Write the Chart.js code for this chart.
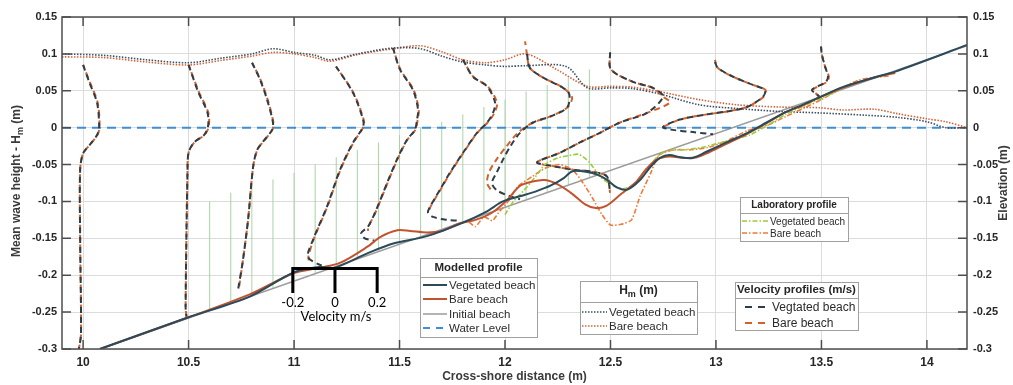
<!DOCTYPE html>
<html>
<head>
<meta charset="utf-8">
<script src="https://cdn.jsdelivr.net/npm/chart.js@4.4.0/dist/chart.umd.min.js"></script>
<style>
  body { margin: 0; background: #fff; }
  #wrap { width: 1013px; height: 385px; }
</style>
</head>
<body>
<div id="wrap"><canvas id="beachChart" width="1013" height="385"></canvas></div>
<script>
// axis ticks
var xTicks = [10, 10.5, 11, 11.5, 12, 12.5, 13, 13.5, 14];
var yTicks = [-0.3, -0.25, -0.2, -0.15, -0.1, -0.05, 0, 0.05, 0.1, 0.15];

// modelled profiles
var initialX = [10.08, 14.19];
var initialY = [-0.3, 0.111];
var waterX = [9.9, 14.19];
var waterY = [0, 0];

var vegBedX = [10.08, 10.5, 10.79, 11.0, 11.12, 11.19, 11.35, 11.47, 11.63, 11.79, 11.91, 11.99, 12.07, 12.15, 12.22, 12.28, 12.32, 12.39, 12.44, 12.48, 12.53, 12.58, 12.64, 12.69, 12.735, 12.78, 12.83, 12.89, 12.96, 13.05, 13.15, 13.24, 13.33, 13.41, 13.49, 13.6, 13.75, 13.85, 14.19];
var vegBedY = [-0.3, -0.257, -0.229, -0.196, -0.189, -0.19, -0.17, -0.157, -0.147, -0.13, -0.114, -0.1, -0.093, -0.086, -0.078, -0.068, -0.059, -0.06, -0.064, -0.07, -0.081, -0.084, -0.071, -0.053, -0.041, -0.037, -0.04, -0.041, -0.032, -0.02, -0.007, 0.007, 0.021, 0.031, 0.041, 0.055, 0.068, 0.076, 0.112];

var bareBedX = [10.08, 10.5, 10.79, 11.0, 11.12, 11.22, 11.35, 11.41, 11.49, 11.55, 11.63, 11.7, 11.78, 11.86, 11.94, 12.01, 12.07, 12.13, 12.19, 12.25, 12.32, 12.38, 12.43, 12.48, 12.55, 12.62, 12.67, 12.72, 12.78, 12.85, 12.91, 12.97, 13.05, 13.15, 13.24, 13.33, 13.41, 13.49, 13.6, 13.75, 13.85];
var bareBedY = [-0.3, -0.257, -0.226, -0.197, -0.19, -0.183, -0.161, -0.148, -0.139, -0.14, -0.142, -0.14, -0.13, -0.125, -0.115, -0.098, -0.079, -0.073, -0.071, -0.077, -0.09, -0.104, -0.109, -0.106, -0.09, -0.074, -0.056, -0.043, -0.039, -0.041, -0.04, -0.033, -0.022, -0.008, 0.006, 0.021, 0.03, 0.041, 0.054, 0.068, 0.074];

// laboratory profiles
var labVegX = [12.0, 12.04, 12.09, 12.14, 12.19, 12.25, 12.3, 12.35, 12.4, 12.45, 12.5, 12.56, 12.62, 12.67, 12.72, 12.77, 12.85, 12.93, 13.0, 13.08, 13.16, 13.25, 13.33, 13.42, 13.5, 13.58];
var labVegY = [-0.118, -0.1, -0.085, -0.068, -0.05, -0.041, -0.038, -0.036, -0.047, -0.066, -0.077, -0.083, -0.076, -0.058, -0.04, -0.031, -0.03, -0.027, -0.022, -0.016, -0.01, 0.004, 0.018, 0.03, 0.04, 0.05];
var labBareX = [11.83, 11.86, 11.9, 11.94, 11.97, 12.02, 12.06, 12.13, 12.19, 12.26, 12.32, 12.37, 12.42, 12.46, 12.5, 12.55, 12.6, 12.64, 12.69, 12.73, 12.8, 12.88, 12.96, 13.05, 13.15, 13.25, 13.33, 13.42, 13.5, 13.6, 13.68, 13.75, 13.82];
var labBareY = [-0.128, -0.134, -0.121, -0.126, -0.115, -0.098, -0.08, -0.066, -0.055, -0.05, -0.057, -0.075, -0.098, -0.118, -0.132, -0.131, -0.125, -0.093, -0.062, -0.037, -0.03, -0.03, -0.027, -0.018, -0.004, 0.004, 0.015, 0.027, 0.038, 0.054, 0.065, 0.068, 0.07];

// mean wave height
var hmVegX = [9.9, 10.1, 10.3, 10.5, 10.65, 10.8, 10.9, 11.0, 11.1, 11.17, 11.3, 11.47, 11.6, 11.7, 11.8, 11.91, 12.0, 12.1, 12.29, 12.39, 12.5, 12.6, 12.73, 12.92, 13.1, 13.3, 13.49, 13.7, 13.86, 14.0, 14.09, 14.19];
var hmVegY = [0.1, 0.098, 0.092, 0.088, 0.094, 0.1, 0.107, 0.102, 0.098, 0.092, 0.1, 0.108, 0.107, 0.097, 0.089, 0.085, 0.083, 0.084, 0.083, 0.054, 0.054, 0.053, 0.046, 0.031, 0.026, 0.022, 0.02, 0.017, 0.014, 0.008, 0, 0];
var hmBareX = [9.9, 10.1, 10.3, 10.5, 10.65, 10.8, 10.9, 11.0, 11.1, 11.17, 11.3, 11.47, 11.6, 11.7, 11.8, 11.91, 12.0, 12.1, 12.25, 12.39, 12.5, 12.6, 12.73, 12.92, 13.1, 13.3, 13.49, 13.6, 13.75, 13.86, 14.0, 14.09, 14.19];
var hmBareY = [0.096, 0.095, 0.089, 0.085, 0.091, 0.097, 0.102, 0.1, 0.095, 0.09, 0.099, 0.107, 0.111, 0.103, 0.092, 0.088, 0.092, 0.1, 0.078, 0.056, 0.056, 0.055, 0.049, 0.038, 0.031, 0.028, 0.027, 0.024, 0.025, 0.019, 0.012, 0.008, 0];

// vegetation stems
var stemX = [10.6, 10.7, 10.8, 10.9, 11.0, 11.1, 11.2, 11.3, 11.4, 11.5, 11.6, 11.7, 11.8, 11.9, 12.0, 12.1, 12.2, 12.3, 12.4];
var stemTop = [-0.1, -0.088, -0.079, -0.07, -0.061, -0.05, -0.04, -0.03, -0.02, -0.01, 0.0, 0.008, 0.018, 0.028, 0.038, 0.049, 0.058, 0.068, 0.079];
var stemBottom = [-0.247, -0.237, -0.227, -0.217, -0.207, -0.197, -0.187, -0.177, -0.167, -0.157, -0.147, -0.137, -0.127, -0.117, -0.107, -0.097, -0.087, -0.077, -0.067];

// velocity profiles (x = station + velocity)
var velVegX = [
  [10.0, 10.03, 10.066, 10.076, 10.066, 10.035, 10.0, 9.986, 9.986, 9.99, 9.98],
  [10.5, 10.545, 10.59, 10.592, 10.573, 10.526, 10.5, 10.495, 10.486, 10.49],
  [10.801, 10.839, 10.872, 10.9, 10.896, 10.853, 10.825, 10.806, 10.782, 10.758, 10.735],
  [11.199, 11.28, 11.327, 11.327, 11.28, 11.218, 11.156, 11.09, 11.066, 11.123, 11.19],
  [11.469, 11.502, 11.564, 11.588, 11.583, 11.573, 11.536, 11.488, 11.441, 11.384, 11.351, 11.318, 11.335, 11.38],
  [11.801, 11.848, 11.915, 11.953, 11.943, 11.915, 11.867, 11.801, 11.739, 11.692, 11.645, 11.635, 11.659, 11.725, 11.773],
  [12.104, 12.118, 12.18, 12.275, 12.305, 12.294, 12.213, 12.133, 12.071, 12.024, 11.991, 11.962, 11.938, 11.962, 12.024, 12.071],
  [12.498, 12.502, 12.607, 12.701, 12.749, 12.673, 12.545, 12.45, 12.355, 12.261, 12.152, 12.227, 12.322, 12.417, 12.483, 12.498],
  [12.995, 13.009, 13.081, 13.175, 13.232, 13.223, 13.147, 13.052, 12.957, 12.829, 12.749, 12.796, 12.891, 12.986],
  [13.498, 13.502, 13.517, 13.531, 13.521, 13.483, 13.455, 13.479, 13.502]
];
var velVegY = [
  [0.085, 0.061, 0.034, 0.001, -0.01, -0.022, -0.035, -0.057, -0.15, -0.28, -0.3],
  [0.085, 0.049, 0.02, 0.001, -0.01, -0.02, -0.034, -0.057, -0.243, -0.256],
  [0.088, 0.065, 0.038, 0.007, -0.003, -0.019, -0.03, -0.053, -0.125, -0.179, -0.219],
  [0.083, 0.047, 0.011, 0.001, -0.02, -0.057, -0.107, -0.152, -0.175, -0.186, -0.191],
  [0.108, 0.079, 0.051, 0.024, 0.011, -0.003, -0.016, -0.043, -0.075, -0.115, -0.134, -0.143, -0.15, -0.153],
  [0.092, 0.069, 0.056, 0.034, 0.02, 0.007, -0.007, -0.034, -0.061, -0.084, -0.107, -0.115, -0.121, -0.125, -0.126],
  [0.1, 0.081, 0.068, 0.054, 0.045, 0.027, 0.015, 0.007, -0.007, -0.026, -0.043, -0.06, -0.075, -0.085, -0.093, -0.097],
  [0.102, 0.079, 0.062, 0.054, 0.042, 0.02, 0.007, -0.007, -0.02, -0.034, -0.047, -0.052, -0.057, -0.06, -0.066, -0.088],
  [0.089, 0.081, 0.069, 0.058, 0.051, 0.042, 0.028, 0.022, 0.018, 0.011, 0.001, -0.003, -0.006, -0.009],
  [0.11, 0.099, 0.083, 0.069, 0.062, 0.056, 0.051, 0.045, 0.038]
];
var velBareX = [
  [10.0, 10.033, 10.069, 10.078, 10.068, 10.036, 10.0, 9.986, 9.986, 9.99, 9.98],
  [10.5, 10.548, 10.594, 10.595, 10.575, 10.527, 10.5, 10.495, 10.486, 10.49],
  [10.801, 10.841, 10.875, 10.902, 10.897, 10.854, 10.826, 10.806, 10.782, 10.758, 10.738],
  [11.199, 11.282, 11.33, 11.329, 11.282, 11.22, 11.158, 11.092, 11.068, 11.07],
  [11.469, 11.504, 11.567, 11.591, 11.586, 11.575, 11.538, 11.49, 11.443, 11.386, 11.353, 11.35],
  [11.801, 11.85, 11.918, 11.962, 11.95, 11.918, 11.869, 11.803, 11.741, 11.694, 11.647, 11.637],
  [12.095, 12.104, 12.118, 12.18, 12.275, 12.318, 12.294, 12.213, 12.133, 12.061, 12.005, 11.96, 11.925, 11.915, 11.935],
  [12.498, 12.502, 12.607, 12.701, 12.749, 12.782, 12.673, 12.545, 12.45, 12.355, 12.261, 12.152, 12.227, 12.322, 12.417, 12.483, 12.498],
  [12.995, 13.009, 13.081, 13.175, 13.235, 13.226, 13.147, 13.052, 12.957, 12.829, 12.749],
  [13.498, 13.502, 13.517, 13.535, 13.525, 13.485, 13.457, 13.479, 13.502]
];
var velBareY = [
  [0.085, 0.061, 0.034, 0.001, -0.01, -0.022, -0.035, -0.057, -0.15, -0.28, -0.3],
  [0.085, 0.049, 0.02, 0.001, -0.01, -0.02, -0.034, -0.057, -0.243, -0.256],
  [0.088, 0.065, 0.038, 0.007, -0.003, -0.019, -0.03, -0.053, -0.125, -0.179, -0.219],
  [0.083, 0.047, 0.011, 0.001, -0.02, -0.057, -0.107, -0.152, -0.175, -0.18],
  [0.108, 0.079, 0.051, 0.024, 0.011, -0.003, -0.016, -0.043, -0.075, -0.115, -0.134, -0.14],
  [0.092, 0.069, 0.056, 0.034, 0.02, 0.007, -0.007, -0.034, -0.061, -0.084, -0.107, -0.115],
  [0.117, 0.1, 0.081, 0.068, 0.054, 0.041, 0.027, 0.015, 0.007, -0.007, -0.026, -0.043, -0.06, -0.075, -0.085],
  [0.102, 0.079, 0.062, 0.054, 0.042, 0.034, 0.02, 0.007, -0.007, -0.02, -0.034, -0.047, -0.052, -0.057, -0.06, -0.066, -0.088],
  [0.092, 0.081, 0.069, 0.058, 0.051, 0.042, 0.028, 0.022, 0.018, 0.011, 0.001],
  [0.11, 0.099, 0.083, 0.069, 0.062, 0.056, 0.051, 0.045, 0.038]
];

// velocity scale bar
var scaleBarStation = 11.194;
var scaleBarTicks = [-0.2, 0, 0.2];
var scaleBarTop = -0.191;
var scaleBarBottom = -0.224;


function pts(xs, ys) {
  let out = [];
  for (let i = 0; i < xs.length; i++) {
    out.push({ x: xs[i], y: ys[i] });
  }
  return out;
}

function lineSet(data, color, width, dash, order, tension, dashOffset) {
  return {
    data: data,
    showLine: true,
    borderColor: color,
    borderWidth: width,
    borderDash: dash || [],
    borderDashOffset: dashOffset || 0,
    pointRadius: 0,
    pointHoverRadius: 0,
    fill: false,
    tension: tension || 0,
    order: order
  };
}

function stemData() {
  let out = [];
  for (let i = 0; i < stemX.length; i++) {
    out.push({ x: stemX[i], y: stemBottom[i] });
    out.push({ x: stemX[i], y: stemTop[i] });
    out.push({ x: stemX[i], y: null });
  }
  return out;
}

function scaleBarData() {
  let first = scaleBarStation + scaleBarTicks[0];
  let last = scaleBarStation + scaleBarTicks[scaleBarTicks.length - 1];
  let out = [
    { x: first, y: scaleBarBottom }, { x: first, y: scaleBarTop },
    { x: last, y: scaleBarTop }, { x: last, y: scaleBarBottom }
  ];
  for (let i = 1; i < scaleBarTicks.length - 1; i++) {
    let px = scaleBarStation + scaleBarTicks[i];
    out.push({ x: px, y: null });
    out.push({ x: px, y: scaleBarTop });
    out.push({ x: px, y: scaleBarBottom });
  }
  return out;
}

var C = {
  vegBed: '#2b4a5a',
  bareBed: '#c2532f',
  initial: '#9b9b9b',
  water: '#3b8fd2',
  hmVeg: '#3d4f5e',
  hmBare: '#d3633a',
  velVeg: '#2e3d48',
  velBare: '#d2622c',
  labVeg: '#9dcc3a',
  labBare: '#ef7a38',
  stem: '#a9d3a5'
};

var DASH_VEL = [6, 4];
var DASH_HM = [1.5, 1.5];
var DASH_LAB = [5, 2, 1.5, 2];
var DASH_WATER = [9, 6];

function buildDatasets() {
  let sets = [];
  sets.push(lineSet(scaleBarData(), '#000', 3, null, 0));
  sets.push(lineSet(pts(vegBedX, vegBedY), C.vegBed, 2, null, 1, 0.3));
  sets.push(lineSet(pts(bareBedX, bareBedY), C.bareBed, 2, null, 2, 0.3));
  sets.push(lineSet(pts(labVegX, labVegY), C.labVeg, 1.6, DASH_LAB, 3, 0.2));
  sets.push(lineSet(pts(labBareX, labBareY), C.labBare, 1.6, DASH_LAB, 4, 0.2));
  for (let i = 0; i < velVegX.length; i++) {
    sets.push(lineSet(pts(velVegX[i], velVegY[i]), C.velVeg, 2, DASH_VEL, 5, 0.3));
    sets.push(lineSet(pts(velBareX[i], velBareY[i]), C.velBare, 2, DASH_VEL, 6, 0.3, 2));
  }
  sets.push(lineSet(pts(hmVegX, hmVegY), C.hmVeg, 1.6, DASH_HM, 7, 0.3));
  sets.push(lineSet(pts(hmBareX, hmBareY), C.hmBare, 1.6, DASH_HM, 8, 0.3));
  sets.push(lineSet(pts(waterX, waterY), C.water, 2, DASH_WATER, 9));
  sets.push(lineSet(pts(initialX, initialY), C.initial, 1.5, null, 10));
  sets.push(lineSet(stemData(), C.stem, 1, null, 11));
  return sets;
}

function fmt(v) {
  return String(Math.round(v * 100) / 100);
}

// text with a subscript part, e.g. H_m
function drawParts(ctx, parts, x, y, font, subFont, align) {
  let widths = parts.map(function(p) {
    ctx.font = p.sub ? subFont : font;
    return ctx.measureText(p.t).width;
  });
  let total = widths.reduce(function(a, b) { return a + b; }, 0);
  let cx = align === 'left' ? x : x - total / 2;
  ctx.textAlign = 'left';
  ctx.textBaseline = 'middle';
  for (let i = 0; i < parts.length; i++) {
    ctx.font = parts[i].sub ? subFont : font;
    ctx.fillText(parts[i].t, cx, parts[i].sub ? y + 4 : y);
    cx += widths[i];
  }
}

function sample(ctx, x1, x2, y, color, width, dash) {
  ctx.save();
  ctx.strokeStyle = color;
  ctx.lineWidth = width;
  ctx.setLineDash(dash || []);
  ctx.beginPath();
  ctx.moveTo(x1, y);
  ctx.lineTo(x2, y);
  ctx.stroke();
  ctx.restore();
}

function legendBox(ctx, b) {
  ctx.save();
  ctx.fillStyle = '#fff';
  ctx.fillRect(b.left, b.top, b.width, b.height);
  ctx.strokeStyle = '#a0a0a0';
  ctx.lineWidth = 1;
  ctx.strokeRect(b.left + 0.5, b.top + 0.5, b.width, b.height);
  ctx.beginPath();
  ctx.moveTo(b.left, b.sep + 0.5);
  ctx.lineTo(b.left + b.width, b.sep + 0.5);
  ctx.stroke();
  ctx.fillStyle = '#262626';
  drawParts(ctx, b.title, b.left + b.width / 2, b.titleY, b.titleFont, b.titleSub, 'center');
  for (let i = 0; i < b.items.length; i++) {
    let it = b.items[i];
    sample(ctx, b.sx1, b.sx2, it.y, it.color, it.width, it.dash);
    ctx.fillStyle = '#2b2b2b';
    ctx.font = b.itemFont;
    ctx.textAlign = 'left';
    ctx.textBaseline = 'middle';
    ctx.fillText(it.label, b.tx, it.y + 1);
  }
  ctx.restore();
}

var extrasPlugin = {
  id: 'extras',
  afterDatasetsDraw: function(chart) {
    let ctx = chart.ctx;
    let a = chart.chartArea;
    let xs = chart.scales.x;
    let ys = chart.scales.y;
    ctx.save();

    // box and inward ticks
    ctx.strokeStyle = '#4d4d4d';
    ctx.lineWidth = 1.5;
    ctx.strokeRect(a.left, a.top, a.right - a.left, a.bottom - a.top);
    ctx.beginPath();
    xTicks.forEach(function(v) {
      let px = xs.getPixelForValue(v);
      ctx.moveTo(px, a.bottom); ctx.lineTo(px, a.bottom - 9);
      ctx.moveTo(px, a.top); ctx.lineTo(px, a.top + 9);
    });
    yTicks.forEach(function(v) {
      let py = ys.getPixelForValue(v);
      ctx.moveTo(a.left, py); ctx.lineTo(a.left + 9, py);
      ctx.moveTo(a.right, py); ctx.lineTo(a.right - 9, py);
    });
    ctx.stroke();

    // scale bar labels
    ctx.fillStyle = '#000';
    ctx.font = '13px Lato, "Open Sans", sans-serif';
    ctx.textAlign = 'center';
    ctx.textBaseline = 'middle';
    scaleBarTicks.forEach(function(v) {
      ctx.fillText(fmt(v), xs.getPixelForValue(scaleBarStation + v), ys.getPixelForValue(-0.238));
    });
    ctx.fillText('Velocity m/s', xs.getPixelForValue(scaleBarStation + 0.005), ys.getPixelForValue(-0.257));

    // legends
    legendBox(ctx, {
      left: 420, top: 258, width: 117, height: 79, sep: 277, titleY: 268,
      title: [{ t: 'Modelled profile' }], titleFont: 'bold 11.5px "Liberation Sans", Arial, sans-serif',
      itemFont: '11.5px "Liberation Sans", Arial, sans-serif', sx1: 423, sx2: 447, tx: 449,
      items: [
        { label: 'Vegetated beach', y: 285, color: C.vegBed, width: 2 },
        { label: 'Bare beach', y: 299, color: C.bareBed, width: 2 },
        { label: 'Initial beach', y: 314, color: C.initial, width: 1.5 },
        { label: 'Water Level', y: 328, color: C.water, width: 2, dash: [7, 6] }
      ]
    });
    legendBox(ctx, {
      left: 580, top: 281, width: 117, height: 53, sep: 302, titleY: 291,
      title: [{ t: 'H' }, { t: 'm', sub: true }, { t: ' (m)' }],
      titleFont: 'bold 12px "Liberation Sans", Arial, sans-serif',
      titleSub: 'bold 9px "Liberation Sans", Arial, sans-serif',
      itemFont: '11.5px "Liberation Sans", Arial, sans-serif', sx1: 582, sx2: 607, tx: 609,
      items: [
        { label: 'Vegetated beach', y: 312, color: C.hmVeg, width: 1.6, dash: DASH_HM },
        { label: 'Bare beach', y: 326, color: C.hmBare, width: 1.6, dash: DASH_HM }
      ]
    });
    legendBox(ctx, {
      left: 735, top: 282, width: 123, height: 48, sep: 298, titleY: 290,
      title: [{ t: 'Velocity profiles (m/s)' }], titleFont: 'bold 11.5px "Liberation Sans", Arial, sans-serif',
      itemFont: '12px "Liberation Sans", Arial, sans-serif', sx1: 745, sx2: 767, tx: 772,
      items: [
        { label: 'Vegtated beach', y: 307, color: C.velVeg, width: 2, dash: [7, 6] },
        { label: 'Bare beach', y: 323, color: C.velBare, width: 2, dash: [7, 6] }
      ]
    });
    legendBox(ctx, {
      left: 740, top: 197, width: 108, height: 44, sep: 213, titleY: 205,
      title: [{ t: 'Laboratory profile' }], titleFont: 'bold 10px "Liberation Sans", Arial, sans-serif',
      itemFont: '10px "Liberation Sans", Arial, sans-serif', sx1: 742, sx2: 768, tx: 770,
      items: [
        { label: 'Vegetated beach', y: 221, color: C.labVeg, width: 1.6, dash: DASH_LAB },
        { label: 'Bare beach', y: 233, color: C.labBare, width: 1.6, dash: DASH_LAB }
      ]
    });

    // axis titles
    let tf = 'bold 12px "Liberation Sans", Arial, sans-serif';
    ctx.fillStyle = '#3a3a3a';
    drawParts(ctx, [{ t: 'Cross-shore distance (m)' }], (a.left + a.right) / 2, 377, tf, tf, 'center');
    ctx.save();
    ctx.translate(17, 181);
    ctx.rotate(-Math.PI / 2);
    drawParts(ctx, [{ t: 'Mean wave height - H' }, { t: 'm', sub: true }, { t: ' (m)' }], 0, 0, tf, 'bold 9px "Liberation Sans", Arial, sans-serif', 'center');
    ctx.restore();
    ctx.save();
    ctx.translate(1004, 183);
    ctx.rotate(-Math.PI / 2);
    drawParts(ctx, [{ t: 'Elevation (m)' }], 0, 0, tf, tf, 'center');
    ctx.restore();

    ctx.restore();
  }
};

function loadChart() {
  const canvas = document.getElementById('beachChart');
  let tickFont = { family: '"Liberation Sans", Arial, sans-serif', weight: 'bold', size: 11 };

  new Chart(canvas, {
    type: 'scatter',
    data: { datasets: buildDatasets() },
    options: {
      responsive: false,
      animation: false,
      events: [],
      layout: { padding: { top: 17, left: 0, right: 0, bottom: 0 } },
      plugins: { legend: { display: false }, tooltip: { enabled: false } },
      scales: {
        x: {
          type: 'linear',
          min: 9.9,
          max: 14.19,
          afterBuildTicks: function(axis) { axis.ticks = xTicks.map(function(v) { return { value: v }; }); },
          afterFit: function(axis) { axis.height = 36; },
          ticks: { font: { family: tickFont.family, weight: 'bold', size: 12 }, color: '#262626', padding: 6, maxRotation: 0, autoSkip: false, callback: function(v) { return fmt(v); } },
          grid: { color: '#dcdcdc', lineWidth: 1, drawTicks: false },
          border: { display: false }
        },
        y: {
          type: 'linear',
          position: 'left',
          min: -0.3,
          max: 0.15,
          afterBuildTicks: function(axis) { axis.ticks = yTicks.map(function(v) { return { value: v }; }); },
          afterFit: function(axis) { axis.width = 62; },
          ticks: { font: tickFont, color: '#262626', padding: 5, autoSkip: false, callback: function(v) { return fmt(v); } },
          grid: { color: '#dcdcdc', lineWidth: 1, drawTicks: false },
          border: { display: false }
        },
        y2: {
          type: 'linear',
          position: 'right',
          min: -0.3,
          max: 0.15,
          afterBuildTicks: function(axis) { axis.ticks = yTicks.map(function(v) { return { value: v }; }); },
          afterFit: function(axis) { axis.width = 46; },
          ticks: { font: tickFont, color: '#262626', padding: 6, autoSkip: false, callback: function(v) { return fmt(v); } },
          grid: { display: false, drawTicks: false },
          border: { display: false }
        }
      }
    },
    plugins: [extrasPlugin]
  });
}

document.addEventListener('DOMContentLoaded', function() {
  loadChart();
});
</script>
</body>
</html>
